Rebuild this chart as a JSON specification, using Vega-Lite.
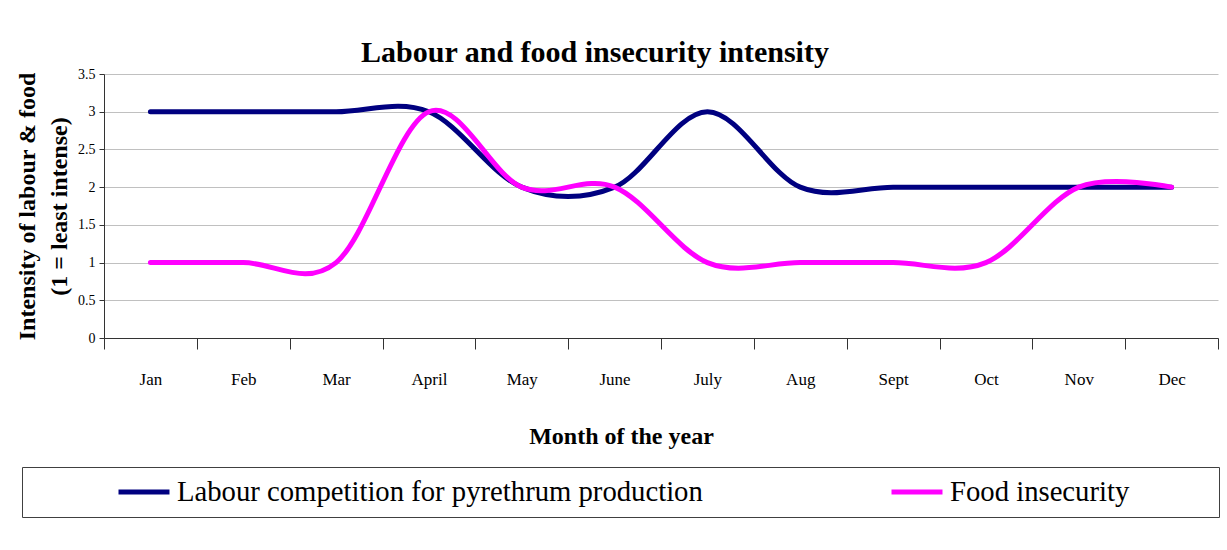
{
  "$schema": "https://vega.github.io/schema/vega-lite/v6.json",
  "autosize": {"type": "none"},
  "padding": {"left": 104, "top": 74, "right": 9, "bottom": 212},
  "width": 1114,
  "height": 264,
  "background": "white",
  "title": {
    "text": "Labour and food insecurity intensity",
    "font": "Liberation Serif",
    "fontSize": 30,
    "fontWeight": "bold",
    "color": "black",
    "frame": "group",
    "anchor": "middle",
    "dx": -66,
    "offset": -1
  },
  "data": {
    "values": [
      {"month": "Jan", "series": "Labour competition for pyrethrum production", "value": 3},
      {"month": "Feb", "series": "Labour competition for pyrethrum production", "value": 3},
      {"month": "Mar", "series": "Labour competition for pyrethrum production", "value": 3},
      {"month": "April", "series": "Labour competition for pyrethrum production", "value": 3},
      {"month": "May", "series": "Labour competition for pyrethrum production", "value": 2},
      {"month": "June", "series": "Labour competition for pyrethrum production", "value": 2},
      {"month": "July", "series": "Labour competition for pyrethrum production", "value": 3},
      {"month": "Aug", "series": "Labour competition for pyrethrum production", "value": 2},
      {"month": "Sept", "series": "Labour competition for pyrethrum production", "value": 2},
      {"month": "Oct", "series": "Labour competition for pyrethrum production", "value": 2},
      {"month": "Nov", "series": "Labour competition for pyrethrum production", "value": 2},
      {"month": "Dec", "series": "Labour competition for pyrethrum production", "value": 2},
      {"month": "Jan", "series": "Food insecurity", "value": 1},
      {"month": "Feb", "series": "Food insecurity", "value": 1},
      {"month": "Mar", "series": "Food insecurity", "value": 1},
      {"month": "April", "series": "Food insecurity", "value": 3},
      {"month": "May", "series": "Food insecurity", "value": 2},
      {"month": "June", "series": "Food insecurity", "value": 2},
      {"month": "July", "series": "Food insecurity", "value": 1},
      {"month": "Aug", "series": "Food insecurity", "value": 1},
      {"month": "Sept", "series": "Food insecurity", "value": 1},
      {"month": "Oct", "series": "Food insecurity", "value": 1},
      {"month": "Nov", "series": "Food insecurity", "value": 2},
      {"month": "Dec", "series": "Food insecurity", "value": 2}
    ]
  },
  "mark": {
    "type": "line",
    "interpolate": "cardinal",
    "tension": 0,
    "strokeWidth": 5,
    "strokeCap": "round",
    "strokeJoin": "round"
  },
  "encoding": {
    "x": {
      "field": "month",
      "type": "ordinal",
      "sort": ["Jan", "Feb", "Mar", "April", "May", "June", "July", "Aug", "Sept", "Oct", "Nov", "Dec"],
      "bandPosition": 0.5,
      "scale": {"type": "band", "paddingInner": 0, "paddingOuter": 0},
      "axis": {
        "title": "Month of the year",
        "titleFont": "Liberation Serif",
        "titleFontSize": 24,
        "titleFontWeight": "bold",
        "titleColor": "black",
        "titleX": 517,
        "titleY": 105,
        "titleBaseline": "alphabetic",
        "titleAlign": "center",
        "labelAngle": 0,
        "labelFont": "Liberation Serif",
        "labelFontSize": 17,
        "labelColor": "black",
        "labelPadding": 22,
        "tickBand": "extent",
        "tickSize": 11,
        "tickColor": "#333333",
        "domainColor": "#333333",
        "grid": false
      }
    },
    "y": {
      "field": "value",
      "type": "quantitative",
      "scale": {"domain": [0, 3.5], "nice": false},
      "axis": {
        "title": ["Intensity of labour & food", "(1 = least intense)"],
        "titleFont": "Liberation Serif",
        "titleFontSize": 24,
        "titleFontWeight": "bold",
        "titleColor": "black",
        "titleX": -70,
        "titleY": 132,
        "titleAngle": -90,
        "titleBaseline": "alphabetic",
        "titleAlign": "center",
        "titleLineHeight": 32,
        "values": [0, 0.5, 1, 1.5, 2, 2.5, 3, 3.5],
        "format": "~g",
        "labelFont": "Liberation Serif",
        "labelFontSize": 14,
        "labelColor": "black",
        "labelPadding": 4,
        "tickSize": 5,
        "tickColor": "#333333",
        "domainColor": "#333333",
        "grid": true,
        "gridColor": "#c0c0c0"
      }
    },
    "color": {
      "field": "series",
      "type": "nominal",
      "scale": {
        "domain": ["Labour competition for pyrethrum production", "Food insecurity"],
        "range": ["#000080", "#FF00FF"]
      },
      "legend": {
        "title": " ",
        "titleOrient": "right",
        "titleFontSize": 10,
        "titlePadding": 80,
        "orient": "none",
        "legendX": -82,
        "legendY": 393,
        "direction": "horizontal",
        "columns": 2,
        "labelFont": "Liberation Serif",
        "labelFontSize": 28.7,
        "labelColor": "black",
        "labelLimit": 800,
        "symbolType": "stroke",
        "symbolSize": 2600,
        "symbolStrokeWidth": 5,
        "symbolOffset": 84,
        "labelOffset": 5,
        "columnPadding": 102,
        "clipHeight": 30,
        "padding": 10,
        "strokeColor": "#404040",
        "fillColor": "white"
      }
    }
  },
  "config": {"view": {"stroke": null}}
}
